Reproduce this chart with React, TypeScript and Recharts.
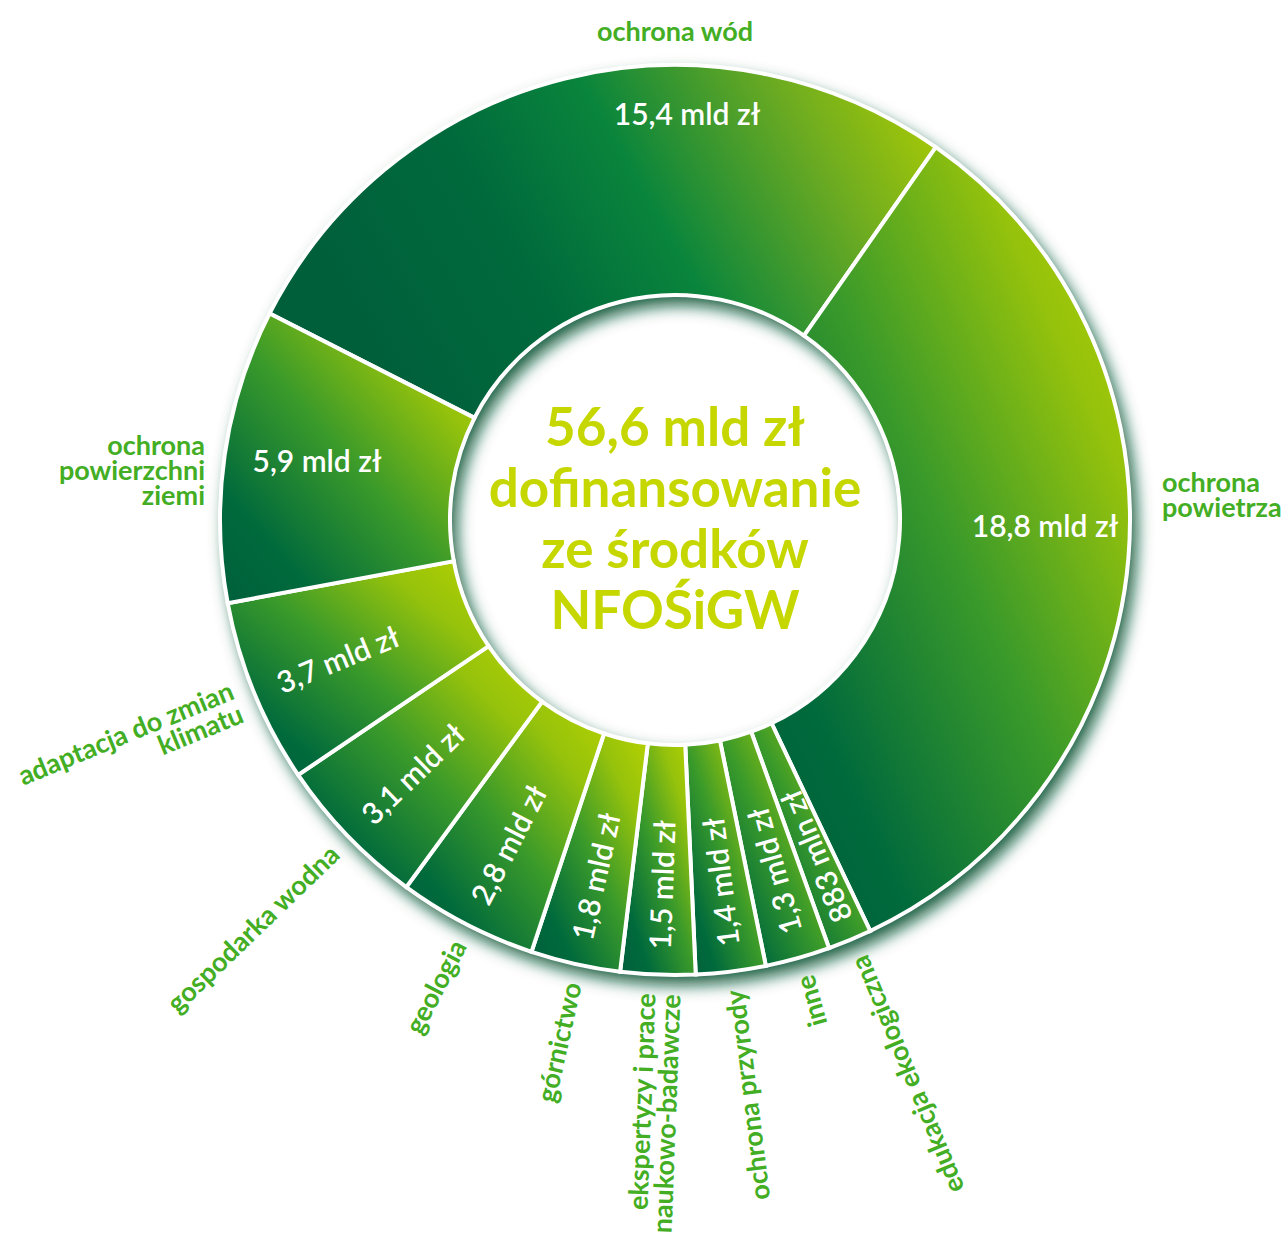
import { PieChart, Pie, Cell } from "recharts";

// category names, split into the lines used on the chart
const categoryLines = [
  ["ochrona wód"],
  ["ochrona", "powietrza"],
  ["edukacja ekologiczna"],
  ["inne"],
  ["ochrona przyrody"],
  ["ekspertyzy i prace", "naukowo-badawcze"],
  ["górnictwo"],
  ["geologia"],
  ["gospodarka wodna"],
  ["adaptacja do zmian", "klimatu"],
  ["ochrona", "powierzchni", "ziemi"],
];

// amounts in mld zł
const amounts = [15.4, 18.8, 0.883, 1.3, 1.4, 1.5, 1.8, 2.8, 3.1, 3.7, 5.9];

const amountLabels = [
  "15,4 mld zł",
  "18,8 mld zł",
  "883 mln zł",
  "1,3 mld zł",
  "1,4 mld zł",
  "1,5 mld zł",
  "1,8 mld zł",
  "2,8 mld zł",
  "3,1 mld zł",
  "3,7 mld zł",
  "5,9 mld zł",
];

const centerLines = ["56,6 mld zł", "dofinansowanie", "ze środków", "NFOŚiGW"];

const data = categoryLines.map((lines, i) => ({
  name: lines.join(" "),
  value: amounts[i],
  amount: amountLabels[i],
  lines,
}));

const RAD = Math.PI / 180;
const FONT = "Lato, 'Open Sans', sans-serif";
const NAME_GREEN = "#43ae24";
const CENTER_GREEN = "#c6d700";

const renderSliceLabel = (props: any) => {
  const { cx, cy, midAngle, innerRadius, outerRadius, index } = props;
  const d = data[index];
  const at = (r: number, a: number) => [
    cx + r * Math.cos(-a * RAD),
    cy + r * Math.sin(-a * RAD),
  ];
  const lh = 25;
  const valueStyle = { fill: "#fff", fontSize: 30, fontWeight: 600, fontFamily: FONT };
  const nameStyle = { fill: NAME_GREEN, fontSize: 27, fontWeight: 700, fontFamily: FONT };

  const lines = (x: number) =>
    d.lines.map((t: string, i: number) => (
      <tspan key={i} x={x} dy={i === 0 ? (-(d.lines.length - 1) / 2) * lh : lh}>
        {t}
      </tspan>
    ));

  // big slices at the top keep horizontal labels
  if (index === 0 || index === 1 || index === 10) {
    let vx, vy, nx, ny, anchor;
    if (index === 0) {
      vx = cx + 12;
      vy = cy - outerRadius + 48;
      nx = cx;
      ny = cy - outerRadius - 35;
      anchor = "middle";
    } else if (index === 1) {
      vx = cx + outerRadius - 85;
      vy = cy + 5;
      nx = cx + outerRadius + 32;
      ny = cy - 27;
      anchor = "start";
    } else {
      vx = cx - outerRadius + 97;
      vy = cy - 60;
      nx = cx - outerRadius - 15;
      ny = cy - 51;
      anchor = "end";
    }
    return (
      <g>
        <text x={vx} y={vy} textAnchor="middle" dominantBaseline="central" style={valueStyle}>
          {d.amount}
        </text>
        <text x={nx} y={ny} textAnchor={anchor} dominantBaseline="central" style={nameStyle}>
          {lines(nx)}
        </text>
      </g>
    );
  }

  // lower slices: text runs along the radius, from outside towards the centre
  const rot = 180 - midAngle;
  const [vx, vy] = at((innerRadius + outerRadius) / 2 + 25, midAngle);
  const [nx, ny] = at(outerRadius + 19, midAngle);
  return (
    <g>
      <text
        x={vx}
        y={vy}
        textAnchor="middle"
        dominantBaseline="central"
        transform={`rotate(${rot} ${vx} ${vy})`}
        style={valueStyle}
      >
        {d.amount}
      </text>
      <text
        x={nx}
        y={ny}
        textAnchor="end"
        dominantBaseline="central"
        transform={`rotate(${rot} ${nx} ${ny})`}
        style={nameStyle}
      >
        {lines(nx)}
      </text>
    </g>
  );
};

const renderCenter = (props: any) => {
  const { cx, cy } = props;
  const step = 61;
  return (
    <text
      x={cx}
      y={cy}
      textAnchor="middle"
      dominantBaseline="central"
      style={{ fill: CENTER_GREEN, fontSize: 53, fontWeight: 700, fontFamily: FONT }}
    >
      {centerLines.map((t, i) => (
        <tspan key={i} x={cx} y={cy - 4 + (i - (centerLines.length - 1) / 2) * step}>
          {t}
        </tspan>
      ))}
    </text>
  );
};

export default function App() {
  return (
    <>
      <style>{"body{margin:0}"}</style>
      <PieChart width={1286} height={1238}>
        <defs>
          <linearGradient id="sliceGrad" x1="0" y1="1" x2="1" y2="0">
            <stop offset="0%" stopColor="#005f3b" />
            <stop offset="20%" stopColor="#006a3c" />
            <stop offset="50%" stopColor="#3a9a2a" />
            <stop offset="78%" stopColor="#95c20c" />
            <stop offset="100%" stopColor="#b6d200" />
          </linearGradient>
          <linearGradient id="topGrad" x1="0" y1="0.3" x2="1" y2="0">
            <stop offset="0%" stopColor="#005f3b" />
            <stop offset="28%" stopColor="#006a3c" />
            <stop offset="50%" stopColor="#0a853c" />
            <stop offset="76%" stopColor="#6aaa22" />
            <stop offset="100%" stopColor="#b4d000" />
          </linearGradient>
          <filter id="ringShadow" x="-20%" y="-20%" width="140%" height="140%">
            <feDropShadow dx="6" dy="9" stdDeviation="8" floodColor="#0b583a" floodOpacity="0.95" />
          </filter>
        </defs>
        <Pie
          data={[{ name: "total", value: 1 }]}
          dataKey="value"
          cx={670}
          cy={515}
          innerRadius={224}
          outerRadius={456}
          stroke="none"
          label={renderCenter}
          labelLine={false}
          isAnimationActive={false}
        >
          <Cell fill="#ffffff" filter="url(#ringShadow)" />
        </Pie>
        <Pie
          data={data}
          dataKey="value"
          nameKey="name"
          cx={670}
          cy={515}
          innerRadius={225}
          outerRadius={455}
          startAngle={153}
          endAngle={-207}
          stroke="#ffffff"
          strokeWidth={4}
          label={renderSliceLabel}
          labelLine={false}
          isAnimationActive={false}
        >
          {data.map((d, i) => (
            <Cell key={d.name} fill={i === 0 ? "url(#topGrad)" : "url(#sliceGrad)"} />
          ))}
        </Pie>
      </PieChart>
    </>
  );
}
